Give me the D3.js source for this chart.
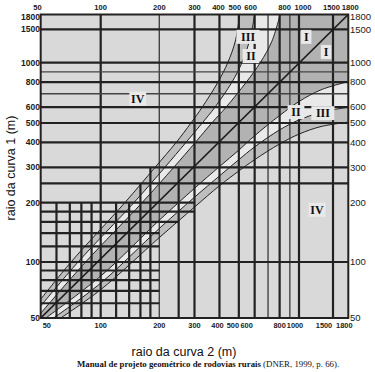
<!DOCTYPE html>
<html>
<head>
<meta charset="utf-8">
<script src="https://cdn.jsdelivr.net/npm/d3@7"></script>
<style>
body { margin: 0; background: #fff; }
</style>
</head>
<body>
<div id="chart"></div>
<script>
// tick labels (same on every side)
var ticks = [50, 100, 200, 300, 400, 500, 600, 800, 1000, 1500, 1800];

// grid lines: [value, how far the line runs along the other axis]
var vGrid = [[60,200],[70,200],[80,200],[90,200],[100,1800],[120,200],[140,200],[160,250],[180,300],
             [200,1800],[250,300],[300,1800],[400,1800],[500,1800],[600,1800],[700,1800],[800,1800],
             [900,1800],[1000,1800],[1500,1800]];
var hGrid = [[60,200],[70,200],[80,200],[90,200],[100,1800],[120,200],[140,200],[160,250],[180,300],
             [200,300],[250,1800],[300,1800],[400,1800],[500,1800],[600,1800],[700,1800],[800,1800],
             [900,1800],[1000,1800],[1500,1800]];
var thinGrid = [200, 700, 900];

// zone boundaries below the diagonal, [raio 2, raio 1]; mirrored above it
var curveA = [[53,50],[100,84],[200,163],[300,236],[400,303],[500,366],[600,432],[800,545],[1000,640],[1300,732],[1800,805]];
var curveB = [[58,50],[100,77],[200,148],[300,213],[400,272],[500,328],[600,380],[800,462],[1000,518],[1300,565],[1800,600]];
var curveC = [[63,50],[100,71],[200,133],[300,190],[400,243],[500,288],[600,328],[800,393],[1000,440],[1300,480],[1800,505]];

// zone labels [text, raio 2, raio 1]
var zoneLabels = [["IV",155,660],["III",556,1370],["II",575,1085],["I",1090,1370],["I",1380,1140],
                  ["II",966,567],["III",1330,560],["IV",1240,184]];

var width = 375, height = 372;

var svg = d3.select("#chart").append("svg")
    .attr("width", width)
    .attr("height", height);

var x = d3.scaleLog()
    .domain([50, 100, 200, 1000, 1800])
    .range([40.7, 100.7, 159.3, 299, 348.3]);
var y = d3.scaleLog()
    .domain([50, 100, 200, 1000, 1800])
    .range([318, 262, 202.7, 62.7, 14.5]);

var x0 = x(50), x1 = x(1800), y0 = y(50), y1 = y(1800);

svg.append("defs").append("clipPath").attr("id", "plot")
    .append("rect")
    .attr("x", x0).attr("y", y1)
    .attr("width", x1 - x0).attr("height", y0 - y1);

var plot = svg.append("g").attr("clip-path", "url(#plot)");

// zone IV background
plot.append("rect")
    .attr("x", x0).attr("y", y1)
    .attr("width", x1 - x0).attr("height", y0 - y1)
    .attr("fill", "#d9d9d9");

var line = d3.line()
    .x(d => x(d[0]))
    .y(d => y(d[1]))
    .curve(d3.curveCatmullRom);

function band(c) {
    var upper = c.map(d => [d[1], d[0]]).reverse();
    return line(c) + "L" + x(1800) + "," + y(1800) +
        line(upper).replace(/^M/, "L") + "L" + x(50) + "," + y(50) + "Z";
}

plot.append("path").attr("d", band(curveC)).attr("fill", "#bebebe");
plot.append("path").attr("d", band(curveB)).attr("fill", "#e9e9e9");
plot.append("path").attr("d", band(curveA)).attr("fill", "#b2b2b2");

// grid
plot.selectAll(".vg")
    .data(vGrid)
    .enter().append("line")
    .attr("x1", d => x(d[0])).attr("x2", d => x(d[0]))
    .attr("y1", y(50)).attr("y2", d => y(d[1]))
    .attr("stroke", d => thinGrid.includes(d[0]) ? "#444" : "#222")
    .attr("stroke-width", d => thinGrid.includes(d[0]) ? 1.4 : 2.2);

plot.selectAll(".hg")
    .data(hGrid)
    .enter().append("line")
    .attr("y1", d => y(d[0])).attr("y2", d => y(d[0]))
    .attr("x1", x(50)).attr("x2", d => x(d[1]))
    .attr("stroke", d => thinGrid.includes(d[0]) && d[0] != 200 ? "#444" : "#222")
    .attr("stroke-width", d => thinGrid.includes(d[0]) && d[0] != 200 ? 1.4 : 2.2);

// zone boundary curves
[curveA, curveB, curveC].forEach(function(c) {
    plot.append("path").attr("d", line(c))
        .attr("fill", "none").attr("stroke", "#222").attr("stroke-width", 1);
    plot.append("path").attr("d", line(c.map(d => [d[1], d[0]])))
        .attr("fill", "none").attr("stroke", "#222").attr("stroke-width", 1);
});

plot.append("line")
    .attr("x1", x(50)).attr("y1", y(50))
    .attr("x2", x(1800)).attr("y2", y(1800))
    .attr("stroke", "#1a1a1a").attr("stroke-width", 1.6);

// frame
svg.append("rect")
    .attr("x", x0).attr("y", y1)
    .attr("width", x1 - x0).attr("height", y0 - y1)
    .attr("fill", "none").attr("stroke", "#222").attr("stroke-width", 2);

// zone labels
var zl = svg.selectAll(".zl")
    .data(zoneLabels)
    .enter().append("g")
    .attr("transform", d => "translate(" + x(d[1]) + "," + y(d[2]) + ")");

zl.append("rect")
    .attr("x", d => -d[0].length * 3.2 - 2)
    .attr("y", -7)
    .attr("width", d => d[0].length * 6.4 + 4)
    .attr("height", 14)
    .attr("fill", "#e9e9e9");

zl.append("text")
    .attr("text-anchor", "middle")
    .attr("dy", "0.36em")
    .style("font-family", "'Liberation Serif', serif")
    .style("font-weight", "bold")
    .style("font-size", "12px")
    .attr("fill", "#111")
    .text(d => d[0]);

// axis labels
var tickFont = "'Liberation Sans', Arial, sans-serif";
// the scanned label rows sit a little off their grid lines
var topShift = { 400: -1, 500: -4, 600: -4, 800: 5, 1000: 4, 1500: -1.5, 1800: 2 };
var bottomShift = { 400: -2, 500: -6, 600: -8, 1000: -4, 1500: -9, 1800: -4 };

svg.selectAll(".tt").data(ticks).enter().append("text")
    .attr("x", d => x(d) + (topShift[d] || 0)).attr("y", 9.5)
    .attr("text-anchor", d => d == 50 ? "end" : "middle")
    .attr("dx", d => d == 50 ? 1 : 0)
    .style("font-family", tickFont).style("font-size", "7.6px").style("font-weight", "bold")
    .attr("fill", "#1a1a1a")
    .text(d => d);

svg.selectAll(".tb").data(ticks).enter().append("text")
    .attr("x", d => x(d) + (bottomShift[d] || 0)).attr("y", 328)
    .attr("text-anchor", d => d == 50 ? "start" : "middle")
    .attr("dx", d => d == 50 ? 2 : 0)
    .style("font-family", tickFont).style("font-size", "7.4px").style("font-weight", "bold")
    .attr("fill", "#1a1a1a")
    .text(d => d);

svg.selectAll(".tl").data(ticks).enter().append("text")
    .attr("x", 40).attr("y", d => y(d) + (d == 1800 ? 2.5 : 0))
    .attr("dy", "0.35em")
    .attr("text-anchor", "end")
    .style("font-family", tickFont).style("font-size", "8.5px").style("font-weight", "bold")
    .attr("fill", "#1a1a1a")
    .text(d => d);

svg.selectAll(".tr").data(ticks).enter().append("text")
    .attr("x", 350).attr("y", d => y(d) + (d == 1800 ? 2.5 : 0))
    .attr("dy", "0.35em")
    .style("font-family", tickFont).style("font-size", "9.5px")
    .attr("fill", "#1a1a1a")
    .text(d => d);

// axis titles
svg.append("text")
    .attr("transform", "translate(15,168) rotate(-90)")
    .attr("text-anchor", "middle")
    .style("font-family", tickFont).style("font-size", "12.5px")
    .attr("fill", "#111")
    .text("raio da curva 1 (m)");

svg.append("text")
    .attr("x", 184).attr("y", 356)
    .attr("text-anchor", "middle")
    .style("font-family", tickFont).style("font-size", "12.5px")
    .attr("fill", "#111")
    .text("raio da curva 2 (m)");

// source
var src = svg.append("text")
    .attr("x", 77).attr("y", 367)
    .style("font-family", "'Liberation Serif', serif").style("font-size", "8.8px")
    .attr("fill", "#111");
src.append("tspan").style("font-weight", "bold").text("Manual de projeto geométrico de rodovias rurais");
src.append("tspan").text(" (DNER, 1999, p. 66).");
</script>
</body>
</html>
